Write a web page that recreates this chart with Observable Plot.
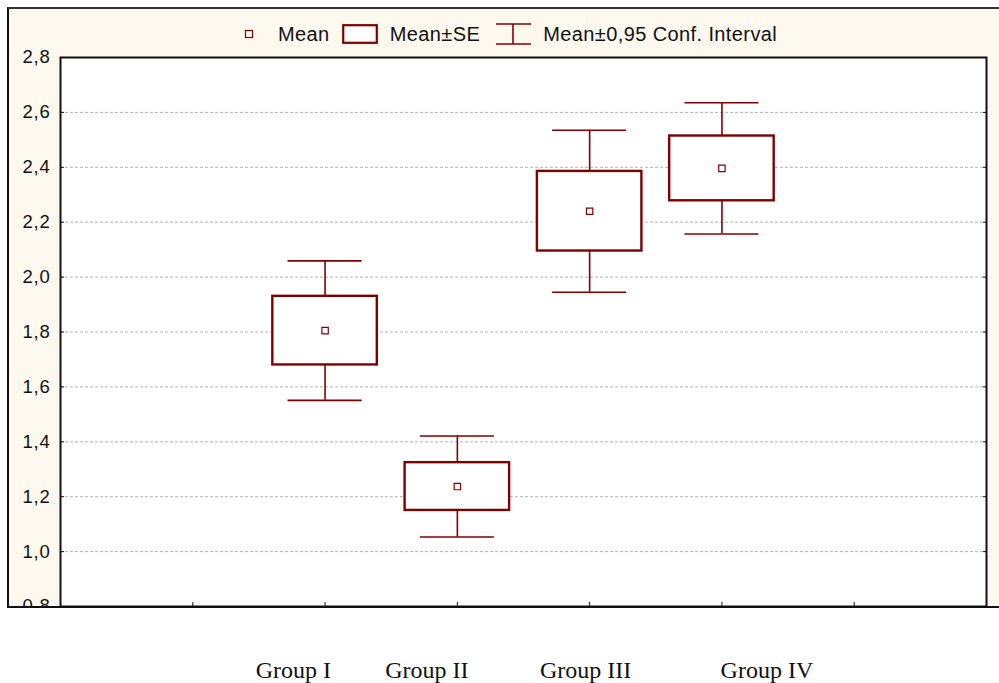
<!DOCTYPE html>
<html><head><meta charset="utf-8">
<script src="https://cdn.jsdelivr.net/npm/d3@7"></script>
<script src="https://cdn.jsdelivr.net/npm/@observablehq/plot@0.6"></script>
<style>
html,body{margin:0;padding:0;background:#fff;}
#wrap{position:relative;width:999px;height:683px;overflow:hidden;font-family:"Liberation Sans",Arial,sans-serif;}
#panel{position:absolute;left:7px;top:7px;width:994px;height:597px;background:#fdf9ee;border-left:2px solid #111;border-top:2px solid #333;border-bottom:2px solid #111;}
#chart{position:absolute;left:0;top:0;}
#chart svg g[aria-label="y-axis tick label"] text{letter-spacing:0.8px;}
#legend{position:absolute;top:23px;left:244px;height:22px;display:flex;align-items:center;font-size:20px;letter-spacing:0.4px;color:#111;white-space:nowrap;}
#legend svg{display:block;}
#cover{position:absolute;left:0;top:608px;width:58px;height:22px;background:#fff;}
</style></head><body>
<div id="wrap"><div id="panel"></div><div id="chart"></div><div id="legend"></div><div id="cover"></div></div>
<script>
const groups = ["Group I", "Group II", "Group III", "Group IV"];
const positions = [2, 3, 4, 5];
const means = [1.805, 1.237, 2.240, 2.396];
const seHalf = [0.125, 0.087, 0.145, 0.118];
const ciHalf = [0.254, 0.184, 0.295, 0.239];
const labelAt = [1.76, 2.77, 3.97, 5.34];
const yTicks = [0.8, 1.0, 1.2, 1.4, 1.6, 1.8, 2.0, 2.2, 2.4, 2.6, 2.8];
const xTicks = [1, 2, 3, 4, 5, 6];
const legendLabels = ["Mean", "Mean±SE", "Mean±0,95 Conf. Interval"];

const maroon = "#800000";
const data = groups.map((g, i) => ({group: g, pos: positions[i], mean: means[i], se: seHalf[i], ci: ciHalf[i], lab: labelAt[i]}));
const gridVals = yTicks.slice(1, -1);
const boxHalf = 0.395, capHalf = 0.28;
const fmt = d => d.toFixed(1).replace(".", ",");

const chart = Plot.plot({
  width: 999, height: 683,
  marginLeft: 60, marginRight: 13, marginTop: 57, marginBottom: 77,
  x: {domain: [0, 7]},
  y: {domain: [0.8, 2.8]},
  style: {background: "transparent", fontFamily: "Liberation Sans, Arial, sans-serif", color: "#111"},
  marks: [
    Plot.frame({fill: "white"}),
    Plot.ruleY(gridVals, {stroke: "#b5b5b5", strokeDasharray: "3,2", strokeWidth: 1}),
    Plot.ruleX(data, {x: "pos", y1: d => d.mean - d.ci, y2: d => d.mean + d.ci, stroke: maroon, strokeWidth: 1.6}),
    Plot.ruleY(data, {y: d => d.mean + d.ci, x1: d => d.pos - capHalf, x2: d => d.pos + capHalf, stroke: maroon, strokeWidth: 1.6}),
    Plot.ruleY(data, {y: d => d.mean - d.ci, x1: d => d.pos - capHalf, x2: d => d.pos + capHalf, stroke: maroon, strokeWidth: 1.6}),
    Plot.rect(data, {x1: d => d.pos - boxHalf, x2: d => d.pos + boxHalf, y1: d => d.mean - d.se, y2: d => d.mean + d.se, fill: "white", stroke: maroon, strokeWidth: 2.4}),
    Plot.dot(data, {x: "pos", y: "mean", symbol: "square", r: 3.6, fill: "white", stroke: maroon, strokeWidth: 1.2}),
    Plot.axisY({ticks: yTicks, tickFormat: fmt, tickSize: -4, tickPadding: 14, fontSize: 18.5, label: null, stroke: "#111"}),
    Plot.axisY({anchor: "right", ticks: yTicks, tickFormat: () => "", tickSize: -4, label: null, stroke: "#111"}),
    Plot.axisX({ticks: xTicks, tickFormat: () => "", tickSize: -4, label: null, stroke: "#111"}),
    Plot.frame({stroke: "#111", strokeWidth: 2}),
    Plot.text(data, {x: "lab", text: "group", frameAnchor: "bottom", dy: 71, fontFamily: "Liberation Serif, Times New Roman, serif", fontSize: 24, fill: "#111"})
  ]
});
document.getElementById("chart").appendChild(chart);

// legend
const icons = [
  `<svg width="10" height="10"><rect x="1.5" y="1.5" width="7" height="7" fill="white" stroke="${maroon}" stroke-width="1.2"/></svg>`,
  `<svg width="36" height="20"><rect x="1.2" y="1.2" width="33.6" height="17.6" fill="white" stroke="${maroon}" stroke-width="2.2"/></svg>`,
  `<svg width="35" height="22"><line x1="0" x2="35" y1="1" y2="1" stroke="${maroon}" stroke-width="1.6"/><line x1="0" x2="35" y1="21" y2="21" stroke="${maroon}" stroke-width="1.6"/><line x1="17" x2="17" y1="1" y2="21" stroke="${maroon}" stroke-width="1.6"/></svg>`
];
const gaps = [[0, 24], [12, 12], [16, 12]];
const lg = document.getElementById("legend");
legendLabels.forEach((t, i) => {
  const ic = document.createElement("span");
  ic.innerHTML = icons[i];
  ic.style.marginLeft = gaps[i][0] + "px";
  ic.style.marginRight = gaps[i][1] + "px";
  lg.appendChild(ic);
  const tx = document.createElement("span");
  tx.textContent = t;
  lg.appendChild(tx);
});
</script>
</body></html>
